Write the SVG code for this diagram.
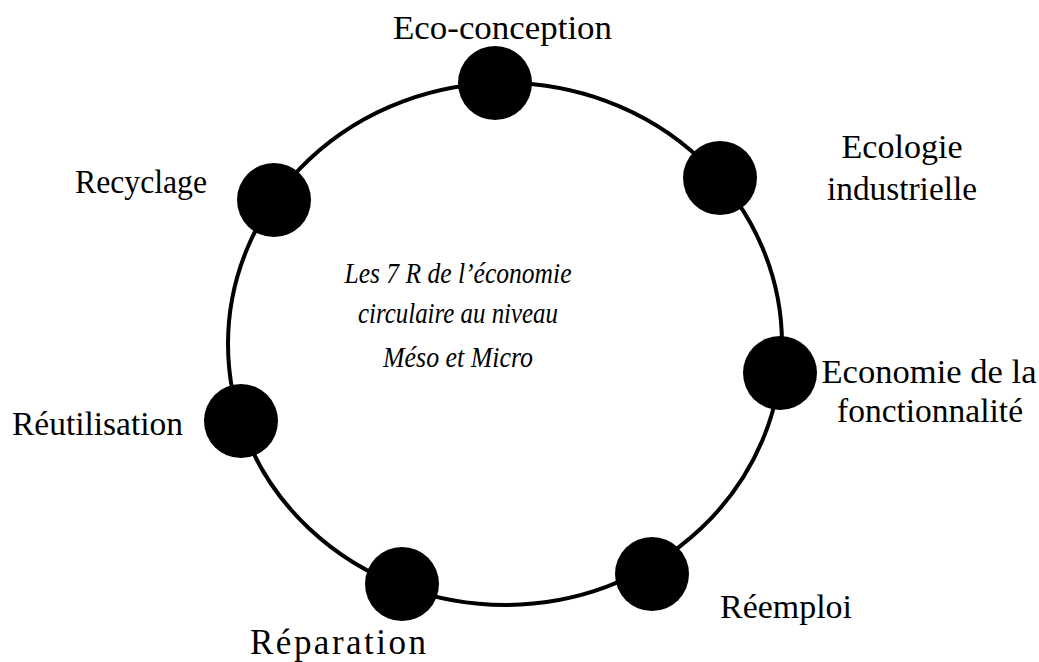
<svg xmlns="http://www.w3.org/2000/svg" width="1039" height="662" viewBox="0 0 1039 662">
<style>
.lbl{font-family:"Liberation Serif","Times New Roman",serif;font-size:34px;fill:#000}
.ctr{font-family:"Liberation Serif","Times New Roman",serif;font-size:29px;font-style:italic;fill:#000}
.dot{fill:#000}
.ring{fill:none;stroke:#000;stroke-width:4}
</style>
<rect width="1039" height="662" fill="#fff"/>
<g id="connectors">
<ellipse class="ring" cx="505" cy="344" rx="277" ry="261"/>
</g>
<g id="center-title">
<text class="ctr" x="458" y="283" text-anchor="middle" textLength="227" lengthAdjust="spacingAndGlyphs">Les 7 R de l’économie</text>
<text class="ctr" x="458" y="323" text-anchor="middle" textLength="200" lengthAdjust="spacingAndGlyphs">circulaire au niveau</text>
<text class="ctr" x="458" y="367" text-anchor="middle" textLength="150" lengthAdjust="spacingAndGlyphs">Méso et Micro</text>
</g>
<g id="eco-conception">
<circle class="dot" cx="495" cy="83" r="37"/>
<text class="lbl" x="393" y="39" textLength="219" lengthAdjust="spacingAndGlyphs">Eco-conception</text>
</g>
<g id="ecologie-industrielle">
<circle class="dot" cx="720" cy="178" r="37"/>
<text class="lbl" x="902" y="158" text-anchor="middle" textLength="121" lengthAdjust="spacingAndGlyphs">Ecologie</text>
<text class="lbl" x="902" y="200" text-anchor="middle" textLength="150" lengthAdjust="spacingAndGlyphs">industrielle</text>
</g>
<g id="economie-fonctionnalite">
<circle class="dot" cx="780" cy="373" r="37"/>
<text class="lbl" x="929" y="383" text-anchor="middle" textLength="215" lengthAdjust="spacingAndGlyphs">Economie de la</text>
<text class="lbl" x="930" y="422" text-anchor="middle" textLength="186" lengthAdjust="spacingAndGlyphs">fonctionnalité</text>
</g>
<g id="reemploi">
<circle class="dot" cx="652" cy="574" r="37"/>
<text class="lbl" x="720" y="618" textLength="132" lengthAdjust="spacingAndGlyphs">Réemploi</text>
</g>
<g id="reparation">
<circle class="dot" cx="402" cy="584" r="37"/>
<text class="lbl" x="250" y="654" style="font-size:35px" textLength="176" lengthAdjust="spacing">Réparation</text>
</g>
<g id="reutilisation">
<circle class="dot" cx="241" cy="421" r="37"/>
<text class="lbl" x="12" y="435" textLength="171" lengthAdjust="spacingAndGlyphs">Réutilisation</text>
</g>
<g id="recyclage">
<circle class="dot" cx="274" cy="200" r="37"/>
<text class="lbl" x="75" y="193" textLength="132" lengthAdjust="spacingAndGlyphs">Recyclage</text>
</g>
</svg>
